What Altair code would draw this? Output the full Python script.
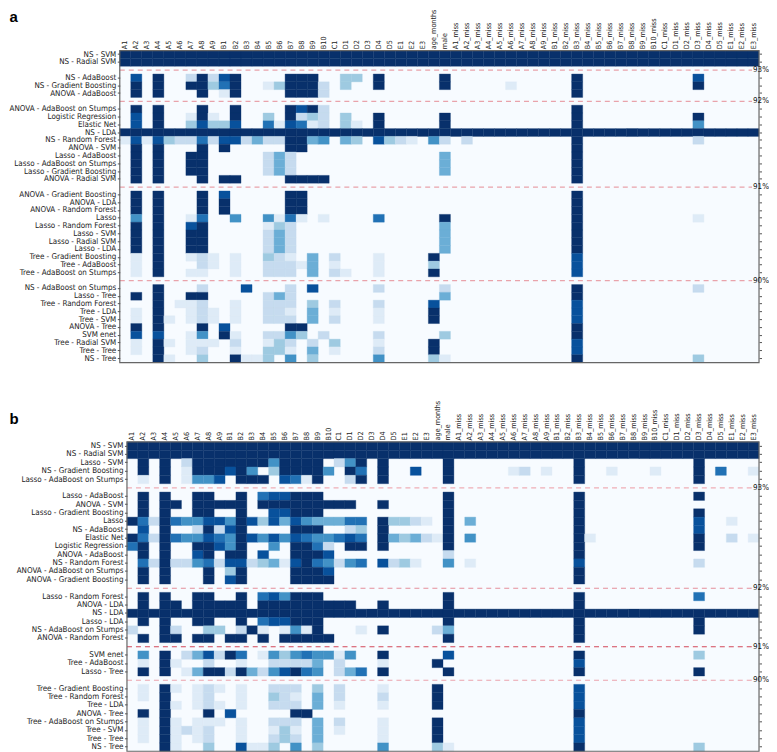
import altair as alt
import pandas as pd

BASE = ["A1","A2","A3","A4","A5","A6","A7","A8","A9","B1","B2","B3","B4","B5","B6","B7","B8","B9","B10",
        "C1","D1","D2","D3","D4","D5","E1","E2","E3"]
COLUMNS = BASE + ["age_months", "male"] + [c + "_miss" for c in BASE]
BLUES = ["#deebf7", "#c6dbef", "#9ecae1", "#6baed6", "#4292c6", "#2171b5", "#08519c", "#08306b"]
LEVELS = [1, 2, 3, 4, 5, 6, 7, 8]

# Rows top to bottom. A name ending in % is an empty separator row with its dashed accuracy line.
A_ROWS = ["NS - SVM","NS - Radial SVM","93%",
 "NS - AdaBoost","NS - Gradient Boosting","ANOVA - AdaBoost","92%",
 "ANOVA - AdaBoost on Stumps","Logistic Regression","Elastic Net","NS - LDA","NS - Random Forest","ANOVA - SVM",
 "Lasso - AdaBoost","Lasso - AdaBoost on Stumps","Lasso - Gradient Boosting","ANOVA - Radial SVM","91%",
 "ANOVA - Gradient Boosting","ANOVA - LDA","ANOVA - Random Forest","Lasso","Lasso - Random Forest","Lasso - SVM",
 "Lasso - Radial SVM","Lasso - LDA","Tree - Gradient Boosting","Tree - AdaBoost","Tree - AdaBoost on Stumps","90%",
 "NS - AdaBoost on Stumps","Lasso - Tree","Tree - Random Forest","Tree - LDA","Tree - SVM","ANOVA - Tree","SVM enet",
 "Tree - Radial SVM","Tree - Tree","NS - Tree"]
A_CELLS = ["*:8","*:8","",
 "A2:7 A4:8 A7:2 A8:8 A9:2 B1:7 B2:8 B7:8 B8:8 B9:8 D1:3 D2:3 D4:8 male:8 B3_miss:8 D3_miss:7",
 "A2:8 A4:8 A7:8 A8:8 A9:3 B1:6 B2:8 B5:1 B6:3 B7:8 B8:8 B9:8 B10:2 D1:3 D4:8 male:8 A6_miss:1 B3_miss:8 D3_miss:8",
 "A2:8 A4:8 A8:8 B1:1 B2:8 B7:8 B8:8 B9:8 B10:2 B3_miss:8","",
 "A2:8 A4:8 A8:8 B2:8 B7:8 B8:7 B9:8 B10:2 B3_miss:8",
 "A2:7 A4:8 A7:1 A8:8 A9:1 B2:8 B5:3 B7:8 B8:2 B9:3 B10:2 D1:3 D4:8 male:8 B3_miss:8 D3_miss:8",
 "A2:7 A4:8 A7:3 A8:7 A9:3 B1:3 B2:7 B5:6 B6:1 B7:7 B8:6 B9:1 B10:2 D1:3 D2:1 D4:8 male:8 B3_miss:8 D3_miss:5",
 "*:8",
 "A1:1 A2:7 A3:1 A4:7 A5:3 A6:2 A7:2 A8:6 A9:2 B1:7 B2:7 B3:2 B4:4 B5:2 B6:2 B7:8 B8:8 B9:4 B10:5 D1:4 D2:3 D4:7 D5:3 E1:2 E2:1 age_months:5 male:2 A2_miss:2 B3_miss:8 D3_miss:2",
 "A2:8 A4:8 A8:8 B1:8 B7:8 B8:8 B3_miss:8",
 "A2:8 A4:8 A7:8 A8:8 B5:2 B6:4 B7:2 male:4 B3_miss:8",
 "A2:8 A4:8 A7:8 A8:8 B5:2 B6:4 B7:2 male:4 B3_miss:8",
 "A2:8 A4:8 A7:8 A8:8 B5:2 B6:4 B7:2 male:4 B3_miss:8",
 "A2:8 A4:8 A8:8 B1:8 B2:8 B7:8 B8:8 B9:8 B10:8 B3_miss:8","",
 "A2:8 A4:8 A8:8 B1:7 B7:8 B8:8 B3_miss:8",
 "A2:8 A4:8 A8:8 B1:8 B7:8 B8:8 B3_miss:8",
 "A2:8 A4:8 A8:8 B1:8 B7:8 B8:8 B3_miss:8",
 "A2:5 A4:8 A7:1 A8:6 B2:5 B5:5 B6:1 B7:6 B8:1 B10:1 D4:6 male:8 B3_miss:8 D3_miss:1",
 "A2:8 A4:8 A7:7 A8:8 B5:1 B6:3 B7:2 male:4 B3_miss:8",
 "A2:8 A4:8 A7:8 A8:8 B5:2 B6:4 B7:2 male:4 B3_miss:8",
 "A2:8 A4:8 A7:8 A8:8 B5:2 B6:4 B7:2 male:4 B3_miss:8",
 "A2:8 A4:8 A7:8 A8:8 B5:2 B6:4 B7:2 male:4 B3_miss:8",
 "A2:1 A4:8 A7:1 A8:2 A9:1 B2:1 B5:3 B6:2 B7:1 B9:4 C1:2 D4:1 age_months:8 B3_miss:7",
 "A2:1 A4:8 A8:2 A9:1 B2:1 B5:2 B6:2 B7:2 B8:1 B9:4 C1:1 D4:1 age_months:3 B3_miss:7",
 "A2:1 A4:8 A7:1 A8:1 B2:1 B5:2 B6:2 B7:2 B9:4 C1:2 D1:1 D4:1 age_months:8 B3_miss:7","",
 "A4:8 A8:2 B3:7 B7:2 B9:7 D4:2 male:2 B3_miss:8 D3_miss:2",
 "A2:8 A4:8 A7:8 A8:8 B5:2 B6:4 B7:2 male:4 B3_miss:8",
 "A4:8 A6:1 A7:1 A8:2 B2:1 B5:2 B6:2 B7:2 B9:3 C1:2 D4:2 age_months:7 B3_miss:7",
 "A2:1 A4:8 A7:1 A8:2 A9:1 B2:1 B5:2 B6:2 B7:1 B9:4 C1:1 D4:1 age_months:8 B3_miss:7",
 "A2:1 A4:8 A5:1 A7:1 A8:2 A9:1 B2:1 B5:2 B6:2 B7:2 B9:4 C1:2 D4:1 age_months:8 B3_miss:7",
 "A2:8 A4:8 A8:8 B1:7 B7:8 B8:8 B3_miss:8",
 "A2:7 A4:7 A7:1 A8:5 B1:8 B2:1 B5:2 B6:2 B7:5 B8:3 B10:2 D4:2 male:3 B3_miss:8",
 "A2:1 A4:8 A5:1 A7:1 A8:1 A9:1 B2:2 B5:1 B6:3 B7:2 B9:2 C1:3 D4:1 age_months:8 B3_miss:7",
 "A2:1 A4:8 A7:1 A8:2 B2:1 B5:3 B6:3 B7:1 B9:4 C1:1 D4:2 age_months:8 B3_miss:7",
 "A4:8 A5:1 A8:3 B2:8 B3:1 B4:1 B5:3 B7:5 B9:3 D4:5 age_months:3 male:1 B3_miss:8 D3_miss:3"]

B_ROWS = ["NS - SVM","NS - Radial SVM","Lasso - SVM","NS - Gradient Boosting","Lasso - AdaBoost on Stumps","93%",
 "Lasso - AdaBoost","ANOVA - SVM","Lasso - Gradient Boosting","Lasso","NS - AdaBoost","Elastic Net","Logistic Regression",
 "ANOVA - AdaBoost","NS - Random Forest","ANOVA - AdaBoost on Stumps","ANOVA - Gradient Boosting","92%",
 "Lasso - Random Forest","ANOVA - LDA","NS - LDA","Lasso - LDA","NS - AdaBoost on Stumps","ANOVA - Random Forest","91%",
 "SVM enet","Tree - AdaBoost","Lasso - Tree","90%",
 "Tree - Gradient Boosting","Tree - Random Forest","Tree - LDA","ANOVA - Tree","Tree - AdaBoost on Stumps","Tree - SVM",
 "Tree - Tree","NS - Tree"]
B_CELLS = ["*:8","*:8",
 "A2:8 A4:8 A6:2 A7:8 A8:8 A9:8 B1:8 B2:8 B3:8 B4:8 B5:5 B6:8 B7:8 B8:8 B9:8 C1:2 D1:5 D2:8 D4:8 male:8 B3_miss:8 D3_miss:8",
 "A2:8 A4:8 A6:1 A7:8 A8:8 A9:8 B1:7 B2:8 B3:5 B5:3 B6:8 B7:8 B8:8 B9:8 B10:5 D1:8 D2:6 D4:8 E2:7 male:8 A6_miss:1 A7_miss:2 A9_miss:1 B3_miss:8 B6_miss:1 B10_miss:1 D3_miss:8 D5_miss:6 E3_miss:1",
 "A2:1 A4:8 A6:1 A7:5 A8:5 A9:7 B2:8 B3:8 B4:8 B6:7 B7:6 B8:1 B9:8 D1:2 D2:8 D4:8 male:8 B3_miss:8 D3_miss:8","",
 "A2:8 A4:8 A7:8 A8:8 B2:8 B4:6 B5:7 B6:7 B7:8 B8:8 B9:8 male:8 B3_miss:8 D3_miss:8",
 "A2:8 A4:8 A5:8 A7:8 A8:8 A9:8 B1:8 B2:8 B4:8 B5:8 B6:8 B7:8 B8:8 B9:8 B10:8 C1:8 D1:8 D4:8 male:8 B3_miss:8",
 "A2:8 A4:8 A7:8 A8:8 B2:8 B5:7 B6:7 B7:8 B8:8 B9:8 male:8 B3_miss:8 D3_miss:8",
 "A1:8 A2:6 A3:2 A4:8 A5:6 A6:5 A7:5 A8:7 A9:7 B1:5 B2:8 B3:7 B4:3 B5:7 B6:4 B7:7 B8:5 B9:4 B10:4 C1:4 D1:6 D2:6 D4:8 D5:3 E1:3 E2:2 E3:1 male:8 A2_miss:4 B3_miss:8 D3_miss:7 E1_miss:1",
 "A2:7 A4:8 A7:2 A8:8 A9:2 B1:7 B2:8 B7:8 B8:8 B9:8 D1:2 D2:3 D4:8 male:8 B3_miss:8 D3_miss:7",
 "A1:8 A2:6 A3:2 A4:8 A5:6 A6:5 A7:5 A8:7 A9:6 B1:5 B2:8 B3:7 B4:5 B5:7 B6:5 B7:7 B8:6 B9:5 B10:5 C1:6 D1:7 D2:6 D4:8 D5:4 E1:3 E2:4 E3:2 age_months:1 male:8 A2_miss:5 B3_miss:8 B4_miss:1 D3_miss:8 E1_miss:2 E3_miss:1",
 "A1:6 A2:8 A4:8 A7:8 A8:8 A9:7 B1:5 B2:8 B5:5 B7:8 B8:8 B9:6 B10:2 D1:8 D2:8 D4:8 male:8 B3_miss:8 D3_miss:8",
 "A2:8 A4:8 A7:7 A8:8 B1:8 B2:8 B4:7 B7:8 B8:8 B9:8 B10:7 male:2 B3_miss:8",
 "A2:6 A3:2 A4:8 A5:2 A6:2 A7:5 A8:6 A9:2 B1:7 B2:7 B3:2 B4:3 B5:4 B6:1 B7:7 B8:8 B9:6 B10:5 C1:2 D1:5 D2:6 D4:7 D5:2 E1:3 E2:1 male:5 A2_miss:1 B3_miss:7 D3_miss:2",
 "A2:8 A4:8 A8:8 B1:3 B2:8 B7:8 B8:8 B9:8 B10:7 B3_miss:8",
 "A2:8 A4:8 A8:8 B1:7 B2:8 B7:8 B8:8 B9:8 B10:8 B3_miss:8","",
 "A2:8 A4:8 A7:8 A8:8 B2:8 B4:6 B5:7 B6:5 B7:8 B8:8 B9:8 male:8 B3_miss:8 D3_miss:6",
 "A2:8 A4:8 A5:8 A7:8 A8:8 A9:8 B1:8 B2:8 B4:8 B5:8 B6:8 B7:8 B8:8 B9:8 B10:8 C1:8 D1:8 D4:8 male:8 B3_miss:8",
 "*:8",
 "A2:8 A4:8 A7:8 A8:8 B2:8 B4:6 B5:7 B6:7 B7:8 B8:8 B9:8 male:8 B3_miss:8 D3_miss:8",
 "A1:2 A4:8 A5:2 A8:3 A9:3 B2:2 B3:8 B4:1 B6:1 B7:5 B8:1 B9:8 D2:1 D4:8 age_months:2 male:4 B3_miss:8 D3_miss:8",
 "A2:8 A4:8 A5:8 A7:8 A8:8 B1:8 B2:8 B4:8 B6:8 B7:8 B8:8 B9:8 B10:8 male:8 B3_miss:8","",
 "A2:5 A4:8 A6:2 A7:4 A8:7 A9:2 B1:8 B2:6 B4:1 B5:5 B6:3 B7:5 B8:6 B9:5 B10:5 C1:1 D1:5 D4:8 male:7 B3_miss:8 D3_miss:3",
 "A2:1 A4:8 A5:1 A8:2 B2:1 B5:2 B6:2 B7:2 B8:2 B9:4 C1:2 D4:1 age_months:8 B3_miss:7",
 "A2:8 A4:8 A6:1 A7:4 A8:8 A9:8 B1:2 B2:8 B3:4 B4:2 B5:5 B6:7 B7:8 B8:6 B9:5 C1:2 D1:4 D2:6 D4:8 male:8 B3_miss:8 D3_miss:8","",
 "A2:1 A4:8 A5:1 A7:1 A8:2 A9:1 B2:1 B5:2 B6:2 B7:2 B9:3 C1:2 D4:1 age_months:8 B3_miss:7",
 "A2:1 A4:8 A7:1 A8:2 B2:1 B5:3 B6:2 B7:1 B9:4 C1:2 D4:2 age_months:8 B3_miss:7",
 "A4:8 A5:1 A7:1 A8:2 A9:1 B2:1 B5:2 B6:2 B7:2 B9:4 C1:1 D4:1 age_months:8 B3_miss:7",
 "A2:8 A4:8 A8:8 B1:7 B7:8 B8:8 B3_miss:8",
 "A2:1 A4:8 A5:1 A7:1 A8:1 A9:1 B2:1 B5:2 B6:2 B7:2 B9:4 C1:2 D4:1 age_months:8 B3_miss:7",
 "A2:1 A4:8 A5:1 A6:2 A7:1 A8:2 B2:1 B5:1 B6:3 B7:1 B9:4 C1:1 D4:1 age_months:8 B3_miss:7",
 "A2:1 A4:8 A5:1 A7:1 A8:2 B2:1 B5:2 B6:3 B7:2 B9:4 D4:1 age_months:8 B3_miss:7",
 "A4:8 A5:1 A8:3 B2:7 B3:1 B4:1 B5:3 B7:5 B9:3 D4:5 age_months:3 male:1 B3_miss:8 D3_miss:3"]

A_DASH = ["#e9a3ab", "#e9a3ab", "#e9a3ab", "#e9a3ab"]
B_DASH = ["#f0aeb6", "#e58f9a", "#d3485a", "#eba3ad"]
FONT = "DejaVu Sans Condensed"
LABEL_SIZE = 8.0
TOP_SIZE = 7.2
RIGHT_SIZE = 8.0
W = 640.5


def cells(rows, specs):
    out = []
    for r, s in zip(rows, specs):
        for tok in s.split():
            c, v = tok.split(":")
            for col in (COLUMNS if c == "*" else [c]):
                out.append({"row": r, "col": col, "v": int(v)})
    return pd.DataFrame(out)


def panel(rows, specs, dash, off, h, letter, base_y):
    labelled = [r for r in rows if not r.endswith("%")]
    gaps = [r for r in rows if r.endswith("%")]
    yscale = alt.Scale(domain=rows, paddingInner=0, paddingOuter=0)
    xscale = alt.Scale(domain=COLUMNS, paddingInner=0, paddingOuter=0, range=[off, W])
    one = pd.DataFrame({"f": [0]})
    box = dict(x=alt.value(off), x2=alt.value(W), y=alt.value(0), y2=alt.value(h))
    ground = alt.Chart(one).mark_rect(fill="#f7fbff", strokeWidth=0).encode(**box)
    frame = alt.Chart(one).mark_rect(fillOpacity=0, stroke="#666666", strokeWidth=1.2).encode(**box)
    base = (
        alt.Chart(cells(rows, specs))
        .mark_rect(strokeWidth=0.35)
        .encode(
            x=alt.X("col:N", scale=xscale, sort=None, title=None,
                    axis=alt.Axis(orient="top", labelAngle=270, ticks=False, domain=False, labelPadding=2,
                                  labelFontSize=TOP_SIZE, labelFont=FONT, labelColor="#222222",
                                  labelOverlap=False, labelBaseline="middle", grid=False)),
            y=alt.Y("row:N", scale=yscale, sort=None, title=None,
                    axis=alt.Axis(orient="left", values=labelled, tickSize=2.5, tickColor="#555555", offset=-off,
                                  domain=False, labelPadding=1.5, labelFontSize=LABEL_SIZE, labelFont=FONT,
                                  labelColor="#222222", labelOverlap=False, labelLimit=200, grid=False)),
            color=alt.Color("v:O", scale=alt.Scale(domain=LEVELS, range=BLUES), legend=None),
            stroke=alt.Stroke("v:O", scale=alt.Scale(domain=LEVELS, range=BLUES), legend=None),
        )
    )
    right = (
        alt.Chart(pd.DataFrame({"row": labelled}))
        .mark_tick(opacity=0)
        .encode(
            y=alt.Y("row:N", scale=yscale, sort=None, title=None,
                    axis=alt.Axis(orient="right", values=labelled, tickSize=2.5, tickColor="#555555", domain=False,
                                  labels=False, grid=False))
        )
    )
    rules = [
        alt.Chart(pd.DataFrame({"row": [g]}))
        .mark_rule(strokeWidth=1.1, strokeDash=[5, 4], color=c)
        .encode(y=alt.Y("row:N", scale=yscale, sort=None, title=None, axis=None),
                x=alt.value(off), x2=alt.value(W - 7))
        for g, c in zip(gaps, dash)
    ]
    pct = (
        alt.Chart(pd.DataFrame({"row": gaps}))
        .mark_text(fontSize=RIGHT_SIZE, font=FONT, align="left", baseline="middle", color="#111111")
        .encode(y=alt.Y("row:N", scale=yscale, sort=None, title=None, axis=None),
                x=alt.value(W - 6), text="row:N")
    )
    tag = (
        alt.Chart(pd.DataFrame({"t": [letter]}))
        .mark_text(fontSize=15, fontWeight="bold", font="Liberation Sans", align="left", baseline="alphabetic", color="#000000")
        .encode(text="t:N", x=alt.value(-110.5), y=alt.value(base_y))
    )
    return (
        alt.layer(ground, base, right, *rules, frame, pct, tag)
        .resolve_axis(y="independent")
        .properties(width=W, height=h, view=alt.ViewConfig(strokeWidth=0, stroke=None))
    )


chart = alt.concat(
    panel(A_ROWS, A_CELLS, A_DASH, 0, 312.5, "a", -29),
    panel(B_ROWS, B_CELLS, B_DASH, 7.2, 310, "b", -18),
    columns=1,
    spacing=36,
).properties(align="none", bounds="full", padding=0, background="#ffffff")
chart.save("out.html", embed_options={"renderer": "svg", "actions": False})
